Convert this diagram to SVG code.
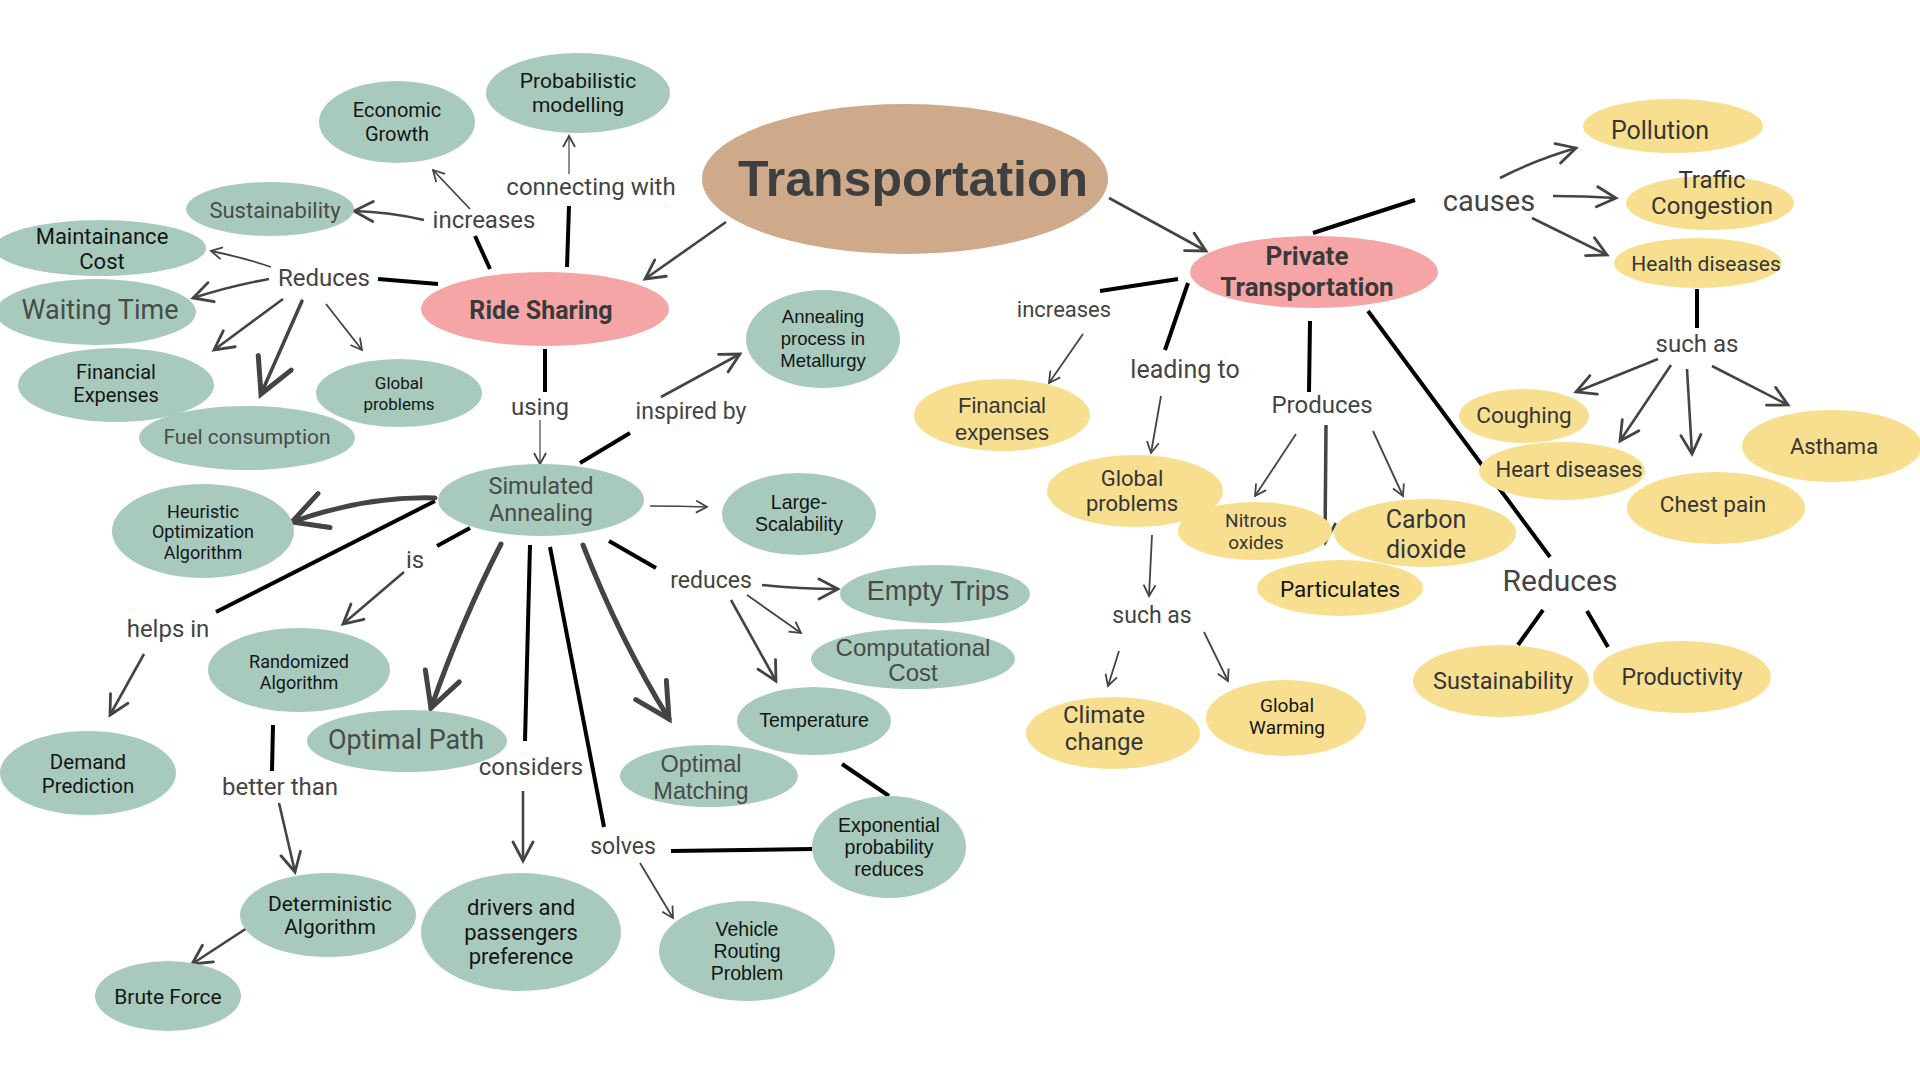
<svg xmlns="http://www.w3.org/2000/svg" width="1920" height="1080" viewBox="0 0 1920 1080">
<style>
.g{fill:#a8cabd}.y{fill:#f7df8f}.p{fill:#f5a5a5}.t{fill:#ceaa8a}
text{text-anchor:middle;dominant-baseline:central}
.c{font-family:Roboto,"Liberation Sans",sans-serif}
.w{font-family:"Liberation Sans",Arial,sans-serif}
.k{fill:#151515}.d{fill:#4a4a4a}.m{fill:#353535}
.lb{font-family:Roboto,"Liberation Sans",sans-serif;fill:#444;font-size:24px}
.bl{stroke:#000;stroke-width:4;fill:none;stroke-linecap:butt}
.ar{stroke:#444;stroke-width:1.8;fill:none;marker-end:url(#a1)}
.am{stroke:#444;stroke-width:2.6;fill:none;marker-end:url(#a2)}
.ath{stroke:#444;stroke-width:5;fill:none;stroke-linecap:round;marker-end:url(#a3)}
</style>
<defs>
<marker id="a1" viewBox="0 0 14 14" refX="12" refY="7" markerWidth="14" markerHeight="14" markerUnits="userSpaceOnUse" orient="auto"><path d="M1,1 L12,7 L1,13" fill="none" stroke="#444" stroke-width="1.8"/></marker>
<marker id="a2" viewBox="0 0 24 24" refX="21" refY="12" markerWidth="24" markerHeight="24" markerUnits="userSpaceOnUse" orient="auto"><path d="M2,2 L21,12 L2,22" fill="none" stroke="#444" stroke-width="2.8" stroke-linecap="round"/></marker>
<marker id="a3" viewBox="0 0 44 44" refX="38" refY="22" markerWidth="44" markerHeight="44" markerUnits="userSpaceOnUse" orient="auto"><path d="M4,4 L38,22 L4,40" fill="none" stroke="#444" stroke-width="5" stroke-linecap="round"/></marker>
</defs>
<rect width="1920" height="1080" fill="#fff"/>

<g id="connectors">
<!-- black lines -->
<line class="bl" x1="490" y1="269" x2="475" y2="236"/>
<line class="bl" x1="567" y1="267" x2="569" y2="206"/>
<line class="bl" x1="438" y1="284" x2="378" y2="279"/>
<line class="bl" x1="545" y1="349" x2="545" y2="392"/>
<line class="bl" x1="580" y1="463" x2="630" y2="433"/>
<line class="bl" x1="470" y1="528" x2="437" y2="546"/>
<line class="bl" x1="435" y1="501" x2="216" y2="612"/>
<line class="bl" x1="609" y1="541" x2="656" y2="568"/>
<line class="bl" x1="530" y1="545" x2="525" y2="741"/>
<line class="bl" x1="550" y1="547" x2="604" y2="827"/>
<line class="bl" x1="273" y1="725" x2="272" y2="771"/>
<line class="bl" x1="671" y1="851" x2="812" y2="849"/>
<line class="bl" x1="842" y1="764" x2="889" y2="796"/>
<line class="bl" x1="1313" y1="233" x2="1415" y2="200"/>
<line class="bl" x1="1178" y1="279" x2="1100" y2="291"/>
<line class="bl" x1="1188" y1="283" x2="1165" y2="350"/>
<line class="bl" x1="1310" y1="321" x2="1309" y2="392"/>
<line class="bl" x1="1368" y1="311" x2="1550" y2="557"/>
<line class="bl" x1="1697" y1="289" x2="1697" y2="328"/>
<line class="bl" x1="1543" y1="610" x2="1518" y2="645"/>
<line class="bl" x1="1587" y1="611" x2="1608" y2="647"/>
<!-- arrows -->
<path class="am" d="M726,222 L645,279"/>
<path class="am" d="M1109,198 L1206,251"/>
<path class="ar" d="M470,209 L433,170"/>
<path class="am" d="M424,220 Q390,212 354,211"/>
<path class="ar" style="stroke-width:1.2" d="M569,174 L569,136"/>
<path class="ar" d="M271,267 Q245,258 211,251"/>
<path class="am" d="M269,279 Q230,286 193,298"/>
<path class="am" d="M283,299 L214,350"/>
<path class="ath" style="stroke-width:3.5" d="M302,301 L261,394"/>
<path class="ar" d="M326,304 L362,350"/>
<path class="ar" style="stroke-width:1.2" d="M540,420 L540,464"/>
<path class="am" d="M661,397 L740,354"/>
<path class="ath" d="M435,498 Q365,496 292,522"/>
<path class="ar" style="stroke-width:1.4" d="M650,506 Q680,506 707,507"/>
<path class="am" d="M404,572 L343,624"/>
<path class="am" d="M144,654 L110,715"/>
<path class="ath" d="M501,544 Q462,620 431,708"/>
<path class="ath" d="M583,545 Q620,640 669,719"/>
<path class="am" d="M762,585 Q800,589 838,589"/>
<path class="ar" d="M747,595 L801,633"/>
<path class="am" d="M731,600 L776,681"/>
<path class="am" d="M279,803 L295,872"/>
<path class="am" d="M523,791 L523,861"/>
<path class="ar" d="M640,863 L673,918"/>
<path class="am" d="M247,928 L192,964"/>
<path class="am" d="M1500,178 Q1535,160 1576,148"/>
<path class="am" d="M1553,196 Q1585,196 1616,198"/>
<path class="am" d="M1532,218 L1607,255"/>
<path class="ar" d="M1083,334 L1049,383"/>
<path class="ar" d="M1161,396 L1151,453"/>
<path class="ar" d="M1296,434 L1255,496"/>
<path class="am" style="stroke-width:3.5" d="M1326,425 L1325,543"/>
<path class="ar" d="M1373,431 L1403,496"/>
<path class="am" d="M1658,359 L1576,392"/>
<path class="am" d="M1671,365 L1620,441"/>
<path class="am" d="M1687,369 L1692,454"/>
<path class="am" d="M1712,366 L1788,405"/>
<path class="ar" d="M1152,535 L1149,596"/>
<path class="ar" d="M1119,651 L1108,686"/>
<path class="ar" d="M1204,632 L1228,681"/>
</g>

<g id="labels">
<text class="lb" x="591" y="187">connecting with</text>
<text class="lb" x="484" y="220">increases</text>
<text class="lb" x="324" y="278">Reduces</text>
<text class="lb" x="540" y="407">using</text>
<text class="lb w" x="691" y="411" style="font-size:23px">inspired by</text>
<text class="lb" x="415" y="560">is</text>
<text class="lb" x="168" y="629">helps in</text>
<text class="lb w" x="711" y="580" style="font-size:23px">reduces</text>
<text class="lb" x="280" y="787">better than</text>
<text class="lb" x="531" y="767">considers</text>
<text class="lb w" x="623" y="846" style="font-size:23px">solves</text>
<text class="lb" x="1489" y="201" style="font-size:29px">causes</text>
<text class="lb w" x="1064" y="309" style="font-size:22px">increases</text>
<text class="lb" x="1185" y="369" style="font-size:25px">leading to</text>
<text class="lb" x="1322" y="405">Produces</text>
<text class="lb" x="1697" y="344">such as</text>
<text class="lb" x="1152" y="615" style="font-size:23px">such as</text>
<text class="lb" x="1560" y="580" style="font-size:30px">Reduces</text>
</g>

<g id="transportation"><ellipse class="t" cx="905" cy="179" rx="203" ry="75"/><text class="w" x="913" y="179" style="font-size:50px;font-weight:bold;fill:#3f3f3f">Transportation</text></g>
<g id="ride-sharing"><ellipse class="p" cx="545" cy="309" rx="124" ry="37"/><text class="c" x="541" y="310" style="font-size:25px;font-weight:bold;fill:#3a3a3a">Ride Sharing</text></g>
<g id="private-transportation"><ellipse class="p" cx="1314" cy="272" rx="124" ry="36"/><text class="c" x="1307" y="256" style="font-size:26px;font-weight:bold;fill:#3a3a3a">Private</text><text class="c" x="1307" y="287" style="font-size:26px;font-weight:bold;fill:#3a3a3a">Transportation</text></g>

<g id="economic-growth"><ellipse class="g" cx="397" cy="122" rx="78" ry="41"/><text class="c k" x="397" y="110" font-size="20">Economic</text><text class="c k" x="397" y="134" font-size="20">Growth</text></g>
<g id="probabilistic-modelling"><ellipse class="g" cx="578" cy="93" rx="92" ry="40"/><text class="c k" x="578" y="81" font-size="21">Probabilistic</text><text class="c k" x="578" y="105" font-size="21">modelling</text></g>
<g id="sustainability-l"><ellipse class="g" cx="270" cy="209" rx="84" ry="27"/><text class="c d" x="275" y="210" font-size="22">Sustainability</text></g>
<g id="maintainance-cost"><ellipse class="g" cx="100" cy="248" rx="106" ry="28"/><text class="c k" x="102" y="236" font-size="22">Maintainance</text><text class="c k" x="102" y="261" font-size="22">Cost</text></g>
<g id="waiting-time"><ellipse class="g" cx="96" cy="312" rx="100" ry="33"/><text class="c d" x="100" y="310" font-size="27">Waiting Time</text></g>
<g id="financial-expenses-l"><ellipse class="g" cx="116" cy="385" rx="98" ry="37"/><text class="c k" x="116" y="372" font-size="20">Financial</text><text class="c k" x="116" y="395" font-size="20">Expenses</text></g>
<g id="global-problems-l"><ellipse class="g" cx="399" cy="393" rx="83" ry="34"/><text class="c k" x="399" y="383" font-size="17">Global</text><text class="c k" x="399" y="404" font-size="17">problems</text></g>
<g id="fuel-consumption"><ellipse class="g" cx="247" cy="438" rx="108" ry="32"/><text class="c d" x="247" y="437" font-size="21">Fuel consumption</text></g>
<g id="annealing-process"><ellipse class="g" cx="823" cy="339" rx="77" ry="49"/><text class="w k" x="823" y="316" font-size="18.5">Annealing</text><text class="w k" x="823" y="338" font-size="18.5">process in</text><text class="w k" x="823" y="360" font-size="18.5">Metallurgy</text></g>
<g id="simulated-annealing"><ellipse class="g" cx="541" cy="500" rx="103" ry="36"/><text class="c d" x="541" y="486" font-size="23.5">Simulated</text><text class="c d" x="541" y="513" font-size="23.5">Annealing</text></g>
<g id="heuristic"><ellipse class="g" cx="203" cy="531" rx="91" ry="47"/><text class="c k" x="203" y="511" font-size="18">Heuristic</text><text class="c k" x="203" y="531" font-size="18">Optimization</text><text class="c k" x="203" y="552" font-size="18">Algorithm</text></g>
<g id="large-scalability"><ellipse class="g" cx="799" cy="514" rx="77" ry="41"/><text class="w k" x="799" y="502" font-size="19.5">Large-</text><text class="w k" x="799" y="524" font-size="19.5">Scalability</text></g>
<g id="randomized"><ellipse class="g" cx="299" cy="670" rx="91" ry="42"/><text class="c k" x="299" y="661" font-size="18">Randomized</text><text class="c k" x="299" y="682" font-size="18">Algorithm</text></g>
<g id="demand-prediction"><ellipse class="g" cx="88" cy="773" rx="88" ry="42"/><text class="c k" x="88" y="762" font-size="20.5">Demand</text><text class="c k" x="88" y="786" font-size="20.5">Prediction</text></g>
<g id="optimal-path"><ellipse class="g" cx="407" cy="741" rx="100" ry="31"/><text class="c d" x="406" y="740" font-size="27">Optimal Path</text></g>
<g id="deterministic"><ellipse class="g" cx="328" cy="915" rx="88" ry="42"/><text class="c k" x="330" y="904" font-size="21">Deterministic</text><text class="c k" x="330" y="927" font-size="21">Algorithm</text></g>
<g id="brute-force"><ellipse class="g" cx="168" cy="996" rx="73" ry="35"/><text class="c k" x="168" y="997" font-size="21">Brute Force</text></g>
<g id="drivers-passengers"><ellipse class="g" cx="521" cy="932" rx="100" ry="59"/><text class="c k" x="521" y="907" font-size="22">drivers and</text><text class="c k" x="521" y="932" font-size="22">passengers</text><text class="c k" x="521" y="956" font-size="22">preference</text></g>
<g id="vehicle-routing"><ellipse class="g" cx="747" cy="951" rx="88" ry="50"/><text class="w k" x="747" y="929" font-size="19.5">Vehicle</text><text class="w k" x="747" y="951" font-size="19.5">Routing</text><text class="w k" x="747" y="973" font-size="19.5">Problem</text></g>
<g id="optimal-matching"><ellipse class="g" cx="709" cy="776" rx="89" ry="31"/><text class="w d" x="701" y="764" font-size="23.5">Optimal</text><text class="w d" x="701" y="791" font-size="23.5">Matching</text></g>
<g id="exponential"><ellipse class="g" cx="889" cy="847" rx="77" ry="51"/><text class="w k" x="889" y="825" font-size="19.5">Exponential</text><text class="w k" x="889" y="847" font-size="19.5">probability</text><text class="w k" x="889" y="869" font-size="19.5">reduces</text></g>
<g id="temperature"><ellipse class="g" cx="814" cy="721" rx="77" ry="34"/><text class="w k" x="814" y="720" font-size="19.5">Temperature</text></g>
<g id="computational-cost"><ellipse class="g" cx="913" cy="659" rx="102" ry="30"/><text class="w d" x="913" y="647" font-size="24">Computational</text><text class="w d" x="913" y="672" font-size="24">Cost</text></g>
<g id="empty-trips"><ellipse class="g" cx="935" cy="594" rx="95" ry="29"/><text class="w d" x="938" y="591" font-size="27">Empty Trips</text></g>

<g id="pollution"><ellipse class="y" cx="1673" cy="126" rx="90" ry="27"/><text class="c m" x="1660" y="130" font-size="25">Pollution</text></g>
<g id="traffic-congestion"><ellipse class="y" cx="1710" cy="203" rx="84" ry="27"/><text class="c m" x="1712" y="180" font-size="24">Traffic</text><text class="c m" x="1712" y="206" font-size="24">Congestion</text></g>
<g id="health-diseases"><ellipse class="y" cx="1698" cy="263" rx="84" ry="25"/><text class="c m" x="1706" y="264" font-size="21">Health diseases</text></g>
<g id="coughing"><ellipse class="y" cx="1524" cy="416" rx="65" ry="27"/><text class="c m" x="1524" y="415" font-size="22.5">Coughing</text></g>
<g id="heart-diseases"><ellipse class="y" cx="1562" cy="471" rx="83" ry="29"/><text class="c m" x="1569" y="469" font-size="22">Heart diseases</text></g>
<g id="chest-pain"><ellipse class="y" cx="1716" cy="508" rx="89" ry="36"/><text class="c m" x="1713" y="504" font-size="22.5">Chest pain</text></g>
<g id="asthama"><ellipse class="y" cx="1832" cy="446" rx="90" ry="36"/><text class="c m" x="1834" y="446" font-size="22">Asthama</text></g>
<g id="financial-expenses-r"><ellipse class="y" cx="1002" cy="415" rx="88" ry="36"/><text class="w m" x="1002" y="405" font-size="22">Financial</text><text class="w m" x="1002" y="432" font-size="22">expenses</text></g>
<g id="global-problems-r"><ellipse class="y" cx="1135" cy="491" rx="88" ry="36"/><text class="c m" x="1132" y="478" font-size="22">Global</text><text class="c m" x="1132" y="503" font-size="22">problems</text></g>
<g id="nitrous-oxides"><ellipse class="y" cx="1255" cy="531" rx="77" ry="29"/><text class="c m" x="1256" y="520" font-size="19">Nitrous</text><text class="c m" x="1256" y="542" font-size="19">oxides</text></g>
<g id="carbon-dioxide"><ellipse class="y" cx="1425" cy="533" rx="91" ry="34"/><text class="c m" x="1426" y="519" font-size="25">Carbon</text><text class="c m" x="1426" y="549" font-size="25">dioxide</text></g>
<g id="particulates"><ellipse class="y" cx="1340" cy="588" rx="83" ry="28"/><text class="c k" x="1340" y="589" font-size="22.5">Particulates</text></g>
<g id="climate-change"><ellipse class="y" cx="1113" cy="733" rx="87" ry="36"/><text class="c m" x="1104" y="715" font-size="24">Climate</text><text class="c m" x="1104" y="742" font-size="24">change</text></g>
<g id="global-warming"><ellipse class="y" cx="1286" cy="718" rx="80" ry="38"/><text class="c k" x="1287" y="705" font-size="19">Global</text><text class="c k" x="1287" y="727" font-size="19">Warming</text></g>
<g id="sustainability-r"><ellipse class="y" cx="1501" cy="681" rx="88" ry="36"/><text class="c m" x="1503" y="681" font-size="23.5">Sustainability</text></g>
<g id="productivity"><ellipse class="y" cx="1682" cy="677" rx="89" ry="36"/><text class="c m" x="1682" y="677" font-size="23">Productivity</text></g>
</svg>
